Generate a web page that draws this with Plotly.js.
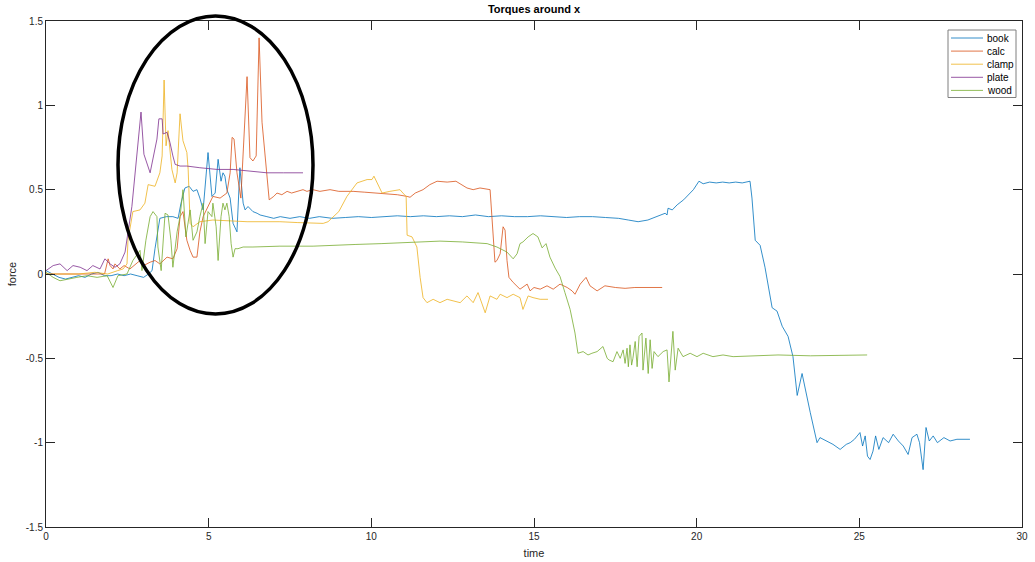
<!DOCTYPE html>
<html>
<head>
<meta charset="utf-8">
<script src="https://cdn.plot.ly/plotly-3.0.1.min.js"></script>
<style>html,body{margin:0;padding:0;background:#fff}#chart{width:1035px;height:562px}</style>
</head>
<body>
<div id="chart"></div>
<script>
// ---- data ----
const seriesNames = ["book", "calc", "clamp", "plate", "wood"];

const bookT = [0,0.2,0.4,0.6,0.8,1.0,1.2,1.4,1.6,1.8,2.0,2.2,2.4,2.6,2.8,3.0,3.15,3.26,3.35,3.5,3.7,3.9,4.06,4.15,4.27,4.4,4.52,4.64,4.73,4.83,4.98,5.04,5.10,5.20,5.29,5.38,5.44,5.50,5.56,5.66,5.75,5.87,5.96,6.06,6.12,6.21,6.36,6.49,6.58,6.79,7.0,7.2,7.5,7.8,8.1,8.4,8.8,9.2,9.6,10.0,10.4,10.8,11.2,11.6,12.0,12.4,12.8,13.2,13.6,14.0,14.4,14.8,15.2,15.6,16.0,16.4,16.8,17.2,17.6,17.9,18.2,18.5,18.8,19.03,19.09,19.12,19.25,19.4,19.6,19.8,19.9,20.07,20.2,20.4,20.6,20.8,21.0,21.2,21.4,21.64,21.70,21.80,21.95,22.10,22.32,22.47,22.63,22.81,22.96,23.09,23.24,23.49,23.70,23.79,24.0,24.19,24.41,24.6,24.72,24.85,25.02,25.1,25.18,25.25,25.33,25.42,25.5,25.6,25.73,25.9,26.04,26.2,26.35,26.5,26.62,26.77,26.85,26.96,27.05,27.15,27.27,27.4,27.6,27.79,28.0,28.2,28.4];
const bookV = [0.02,0.0,-0.02,-0.03,-0.02,-0.01,-0.02,0.0,0.01,-0.01,-0.01,0.0,-0.01,0.0,-0.01,-0.02,0.0,0.02,0.15,0.33,0.34,0.34,0.33,0.42,0.51,0.52,0.49,0.5,0.45,0.38,0.72,0.6,0.46,0.48,0.68,0.55,0.6,0.58,0.5,0.45,0.3,0.25,0.63,0.42,0.38,0.4,0.37,0.36,0.35,0.34,0.33,0.34,0.33,0.34,0.33,0.34,0.33,0.335,0.34,0.335,0.34,0.345,0.34,0.345,0.34,0.345,0.34,0.35,0.34,0.345,0.34,0.34,0.345,0.34,0.335,0.34,0.34,0.335,0.33,0.32,0.31,0.32,0.34,0.36,0.35,0.39,0.38,0.41,0.44,0.48,0.50,0.55,0.535,0.545,0.54,0.545,0.54,0.545,0.54,0.55,0.45,0.2,0.17,0.04,-0.2,-0.22,-0.31,-0.37,-0.49,-0.72,-0.59,-0.82,-1.0,-0.97,-0.99,-1.01,-1.04,-1.01,-1.0,-0.98,-0.94,-1.02,-0.96,-1.08,-1.1,-1.05,-0.96,-1.04,-0.97,-1.0,-0.95,-0.99,-1.02,-1.07,-0.97,-0.95,-1.0,-1.16,-0.91,-0.99,-0.96,-1.0,-0.97,-0.99,-0.98,-0.98,-0.98];

const calcT = [0,0.5,1.0,1.5,1.8,1.91,1.97,2.06,2.12,2.27,2.4,2.58,2.75,2.89,3.0,3.2,3.35,3.5,3.72,3.9,4.03,4.12,4.21,4.33,4.43,4.52,4.64,4.73,4.83,4.98,5.13,5.35,5.56,5.66,5.72,5.78,5.87,5.99,6.12,6.18,6.27,6.36,6.46,6.55,6.64,6.73,6.86,7.0,7.10,7.25,7.41,7.55,7.72,7.9,8.02,8.2,8.42,8.73,9.0,9.44,9.8,10.2,10.48,10.8,11.10,11.19,11.35,11.50,11.59,11.80,12.02,12.33,12.60,12.94,13.13,13.34,13.65,13.80,13.86,13.96,14.05,14.11,14.17,14.23,14.36,14.57,14.7,14.79,14.88,15.0,15.19,15.4,15.59,15.8,16.02,16.17,16.26,16.42,16.60,16.72,16.94,17.18,17.5,17.8,18.1,18.4,18.7,18.94];
const calcV = [0.0,0.0,0.0,0.0,0.0,0.09,0.05,0.03,0.06,0.03,0.05,0.03,0.06,0.08,0.05,0.07,0.08,0.06,0.1,0.09,0.15,0.34,0.37,0.2,0.14,0.1,0.1,0.25,0.34,0.4,0.46,0.45,0.48,0.6,0.81,0.8,0.6,0.45,0.9,1.17,0.69,0.67,0.7,1.40,0.9,0.7,0.44,0.46,0.48,0.47,0.49,0.48,0.49,0.5,0.49,0.5,0.49,0.5,0.49,0.49,0.485,0.48,0.475,0.47,0.46,0.455,0.48,0.49,0.5,0.53,0.55,0.545,0.55,0.51,0.5,0.51,0.5,0.07,0.08,0.12,0.28,0.26,0.08,-0.02,-0.05,-0.09,-0.07,-0.06,-0.1,-0.08,-0.09,-0.07,-0.09,-0.06,-0.08,-0.1,-0.12,-0.06,-0.02,-0.07,-0.1,-0.07,-0.08,-0.085,-0.08,-0.08,-0.08,-0.08];

const clampT = [0,0.5,1.0,1.5,1.9,2.2,2.37,2.49,2.52,2.67,2.89,3.04,3.14,3.35,3.50,3.57,3.63,3.69,3.75,3.87,3.97,4.03,4.12,4.21,4.33,4.37,4.43,4.52,4.73,5.13,5.6,6.18,6.7,7.19,7.72,8.21,8.52,8.67,8.82,9.0,9.25,9.56,9.87,10.02,10.08,10.18,10.33,10.57,10.88,10.97,11.07,11.10,11.25,11.40,11.50,11.59,11.71,11.90,12.11,12.33,12.51,12.73,12.94,13.13,13.28,13.40,13.50,13.65,13.86,13.96,14.17,14.36,14.57,14.66,14.82,14.97,15.19,15.43];
const clampV = [0.0,0.0,0.0,0.01,0.0,0.02,0.03,0.06,0.2,0.37,0.38,0.42,0.53,0.52,0.6,0.7,1.15,0.76,0.85,0.62,0.54,0.6,0.95,0.79,0.72,0.62,0.3,0.28,0.31,0.32,0.315,0.31,0.31,0.31,0.305,0.3,0.3,0.31,0.34,0.37,0.46,0.54,0.56,0.56,0.58,0.54,0.48,0.49,0.5,0.48,0.46,0.23,0.22,0.16,-0.02,-0.14,-0.17,-0.15,-0.17,-0.15,-0.16,-0.17,-0.13,-0.17,-0.11,-0.18,-0.23,-0.13,-0.15,-0.12,-0.14,-0.12,-0.14,-0.21,-0.13,-0.14,-0.15,-0.15];

const plateT = [0,0.22,0.43,0.55,0.65,0.83,1.05,1.26,1.44,1.66,1.81,1.97,2.12,2.27,2.43,2.64,2.80,2.92,3.01,3.20,3.41,3.47,3.57,3.60,3.72,3.81,3.90,3.97,4.12,4.33,4.73,5.26,5.75,6.4,6.79,7.3,7.9];
const plateV = [0.02,0.05,0.06,0.04,0.02,0.05,0.04,0.02,0.05,0.03,0.09,0.06,0.04,0.06,0.13,0.40,0.74,0.96,0.71,0.6,0.8,0.92,0.92,0.83,0.84,0.78,0.7,0.65,0.64,0.64,0.63,0.62,0.62,0.61,0.6,0.6,0.6];

const woodT = [0,0.22,0.43,0.65,0.95,1.26,1.57,1.88,2.06,2.21,2.49,2.67,2.89,2.95,3.07,3.20,3.29,3.41,3.44,3.54,3.66,3.75,3.84,3.90,4.03,4.12,4.21,4.30,4.43,4.52,4.64,4.73,4.83,4.89,4.98,5.10,5.13,5.23,5.29,5.38,5.44,5.50,5.56,5.63,5.69,5.75,5.81,5.90,6.06,6.36,7.19,8.21,8.73,9.5,10.3,11.0,11.7,12.11,12.8,13.56,13.86,14.17,14.36,14.48,14.57,14.66,14.82,14.97,15.12,15.25,15.37,15.49,15.65,15.80,15.95,16.11,16.26,16.35,16.51,16.66,16.78,16.94,17.12,17.25,17.31,17.43,17.55,17.65,17.74,17.80,17.86,17.90,17.95,18.00,18.04,18.11,18.17,18.23,18.32,18.35,18.44,18.51,18.57,18.63,18.69,18.81,18.97,19.09,19.15,19.27,19.34,19.43,19.58,19.80,20.01,20.20,20.50,20.81,21.12,21.64,22.5,23.5,24.5,25.24];
const woodV = [0.01,-0.02,-0.04,-0.03,-0.02,-0.01,-0.02,-0.01,-0.08,-0.01,0.0,0.08,0.14,0.02,0.2,0.34,0.37,0.34,0.16,0.02,0.36,0.35,0.2,0.04,0.25,0.34,0.5,0.22,0.38,0.2,0.25,0.34,0.42,0.18,0.37,0.34,0.42,0.28,0.08,0.34,0.42,0.38,0.42,0.34,0.18,0.1,0.15,0.15,0.16,0.16,0.165,0.165,0.17,0.175,0.18,0.185,0.19,0.195,0.19,0.18,0.16,0.13,0.09,0.12,0.18,0.19,0.22,0.24,0.22,0.155,0.18,0.1,0.035,-0.015,-0.11,-0.21,-0.35,-0.47,-0.46,-0.48,-0.47,-0.46,-0.43,-0.5,-0.51,-0.52,-0.46,-0.5,-0.45,-0.53,-0.44,-0.55,-0.42,-0.54,-0.5,-0.4,-0.55,-0.37,-0.35,-0.57,-0.38,-0.59,-0.39,-0.56,-0.46,-0.49,-0.46,-0.45,-0.64,-0.34,-0.57,-0.44,-0.49,-0.47,-0.49,-0.47,-0.49,-0.48,-0.49,-0.485,-0.48,-0.485,-0.48,-0.48];

const xTicks = [0, 5, 10, 15, 20, 25, 30];
const yTicks = [-1.5, -1, -0.5, 0, 0.5, 1, 1.5];
const yTickLabels = ["-1.5", "-1", "-0.5", "0", "0.5", "1", "1.5"];

// ---- styles ----
const colors = ["#0072BD", "#D95319", "#EDB120", "#7E2F8E", "#77AC30"];
const xs = [bookT, calcT, clampT, plateT, woodT];
const ys = [bookV, calcV, clampV, plateV, woodV];
const lineWidth = 0.8;

const traces = seriesNames.map((n, i) => ({
  type: "scatter", mode: "lines", name: n,
  x: xs[i], y: ys[i], showlegend: false,
  line: {color: colors[i], width: lineWidth}
}));

const axisColor = "#262626";
const fam = "Liberation Sans, Arial, Helvetica, sans-serif";
const font = {family: fam, size: 10, color: axisColor};

// plot area geometry in pixels (for paper coords of legend box and ellipse)
const W = 1035, H = 562, ML = 46, MR = 13, MT = 21, MB = 35;
const PW = W - ML - MR, PH = H - MT - MB;
const px = v => (v - ML) / PW;
const py = v => (H - MB - v) / PH;

// legend drawn as a MATLAB-style box
const legTop = 30, legRow = 13.1, legLeft = 948, legRight = 1016;
const shapes = [{type: "rect", xref: "paper", yref: "paper",
  x0: px(legLeft), x1: px(legRight), y0: py(legTop + legRow * seriesNames.length + 2), y1: py(legTop),
  fillcolor: "#fff", line: {color: "#7f7f7f", width: 1}, layer: "above"}];
const annotations = [];
seriesNames.forEach((n, i) => {
  const yc = legTop + 8 + i * legRow;
  shapes.push({type: "line", xref: "paper", yref: "paper", x0: px(951), x1: px(983), y0: py(yc), y1: py(yc),
               line: {color: colors[i], width: lineWidth}, layer: "above"});
  annotations.push({xref: "paper", yref: "paper", x: px(985), y: py(yc), xanchor: "left", yanchor: "middle",
                    text: n, showarrow: false, font: {family: fam, size: 10, color: "#000"}});
});
// highlight ellipse
shapes.push({type: "circle", xref: "paper", yref: "paper",
  x0: px(118), x1: px(313), y0: py(314), y1: py(16),
  line: {color: "#000", width: 3.5}});

const layout = {
  width: W, height: H,
  margin: {l: ML, r: MR, t: MT, b: MB, pad: 0},
  paper_bgcolor: "#fff", plot_bgcolor: "#fff",
  font: font,
  showlegend: false,
  title: {text: "<b>Torques around x</b>", font: {family: fam, size: 11, color: "#000"},
          x: 0.5, xref: "paper", y: 1 - 9/562, yref: "container", yanchor: "middle"},
  xaxis: {range: [0, 30], tickvals: xTicks, ticks: "inside", ticklen: 9, tickcolor: axisColor,
          showline: true, linecolor: axisColor, linewidth: 1, mirror: "ticks",
          showgrid: false, zeroline: false, tickfont: font,
          title: {text: "time", font: {family: fam, size: 11, color: axisColor}, standoff: 8}},
  yaxis: {range: [-1.5, 1.5], tickvals: yTicks, ticktext: yTickLabels, ticks: "inside", ticklen: 9,
          tickcolor: axisColor, showline: true, linecolor: axisColor, linewidth: 1, mirror: "ticks",
          showgrid: false, zeroline: false, tickfont: font,
          title: {text: "force", font: {family: fam, size: 11, color: axisColor}, standoff: 6}},
  shapes: shapes,
  annotations: annotations
};

Plotly.newPlot("chart", traces, layout, {displayModeBar: false, staticPlot: true});
</script>
</body>
</html>
